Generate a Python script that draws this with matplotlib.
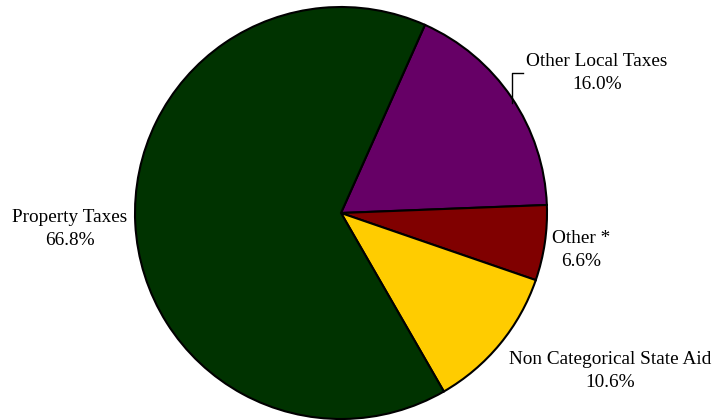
import matplotlib
matplotlib.use("Agg")
import matplotlib.pyplot as plt

categories = ["Other Local Taxes", "Other *", "Non Categorical State Aid", "Property Taxes"]
label_pcts = ["16.0%", "6.6%", "10.6%", "66.8%"]
shares = [17.7, 5.9, 11.4, 65.0]
colors = ["#660066", "#800000", "#FFCC00", "#003300"]

plt.rcParams['font.family'] = ['Liberation Serif', 'DejaVu Serif']

fig = plt.figure(figsize=(7.12, 4.2), dpi=100)
cx, cy, r = 341, 213, 206
W, H = 712, 420
ax = fig.add_axes([(cx - r) / W, (H - cy - r) / H, 2 * r / W, 2 * r / H])
ax.pie(shares, colors=colors, startangle=65.95, counterclock=False,
       wedgeprops=dict(edgecolor="black", linewidth=1.5), radius=1.0)
ax.set_xlim(-1, 1)
ax.set_ylim(-1, 1)
ax.set_aspect("equal")
ax.axis("off")

fs = 13.9
def ftext(x, y, s):
    fig.text(x / W, 1 - y / H, s, ha="center", va="center", fontsize=fs, linespacing=1.52)

ftext(597, 73, categories[0] + "\n" + label_pcts[0])
ftext(581, 250, categories[1] + "\n" + label_pcts[1])
ftext(610, 371, categories[2] + "\n" + label_pcts[2])
ftext(70, 229, categories[3] + "\n" + label_pcts[3])

# leader line for Other Local Taxes
fig.add_artist(plt.Line2D([523 / W, 512 / W, 512 / W], [1 - 73 / H, 1 - 73 / H, 1 - 103 / H],
                          color="black", linewidth=1))

fig.savefig("out.png", dpi=100)
